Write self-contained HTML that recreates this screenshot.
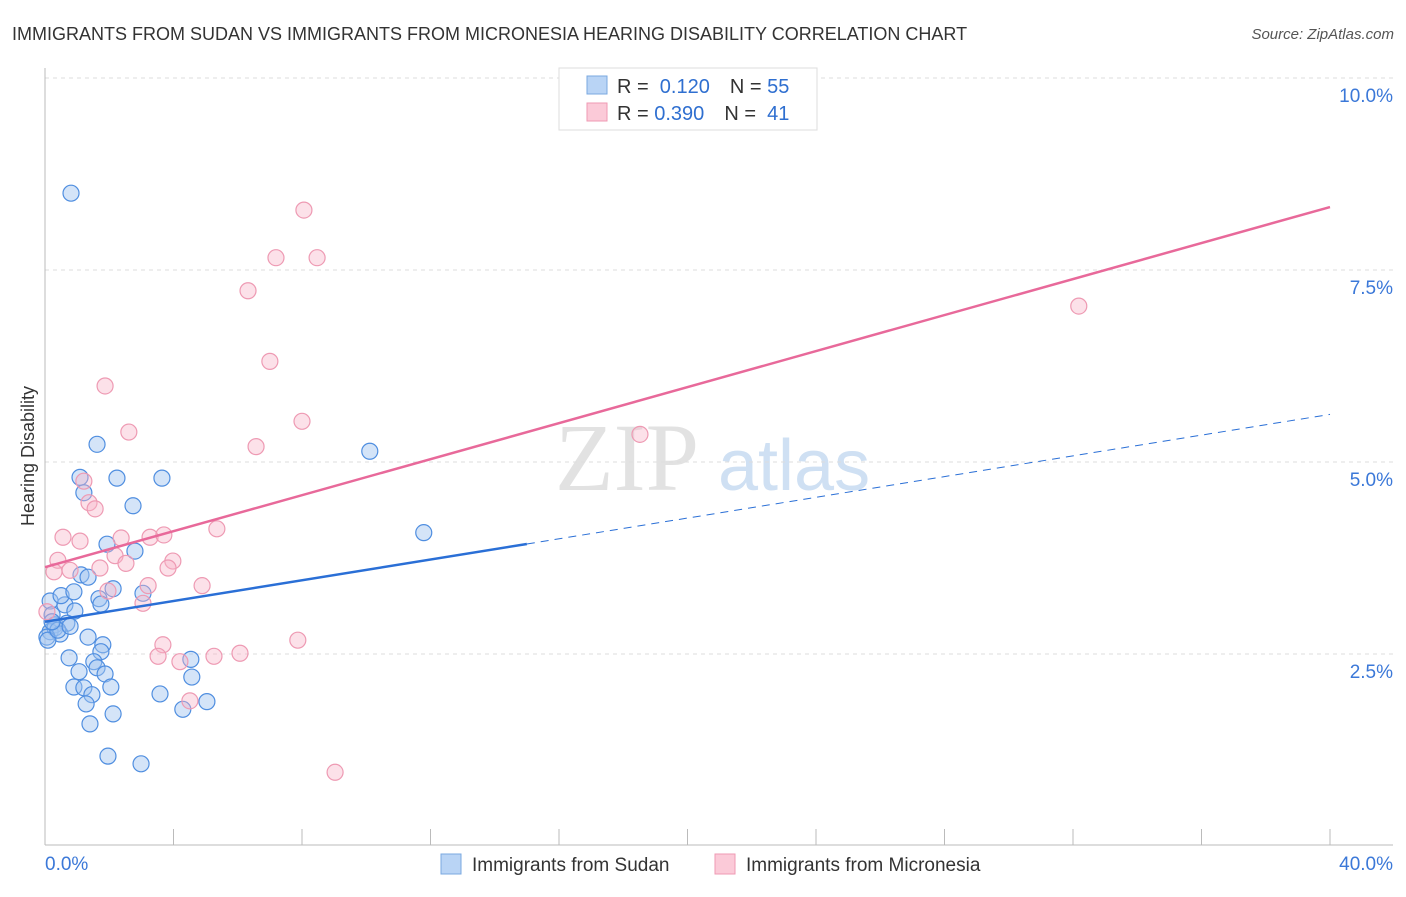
<!DOCTYPE html>
<html><head><meta charset="utf-8"><style>
body{margin:0;background:#fff;font-family:"Liberation Sans",sans-serif;}
</style></head><body>
<svg width="1406" height="892" xmlns="http://www.w3.org/2000/svg" font-family="Liberation Sans, sans-serif">
<text x="12" y="40" font-size="18" fill="#333">IMMIGRANTS FROM SUDAN VS IMMIGRANTS FROM MICRONESIA HEARING DISABILITY CORRELATION CHART</text>
<text x="1394" y="39" font-size="15" fill="#555" font-style="italic" text-anchor="end">Source: ZipAtlas.com</text>
<text x="555" y="490" font-size="96" fill="#e2e2e2" font-family="Liberation Serif, serif">ZIP</text>
<text x="718" y="490" font-size="72" fill="#cfe0f3">atlas</text>
<g id="grid"></g>
<g id="axes"></g>
<g id="marks"></g>
<text transform="translate(34,456) rotate(-90)" font-size="18" fill="#333" text-anchor="middle">Hearing Disability</text>
<g>
<rect x="559" y="68" width="258" height="62" fill="#fff" stroke="#ddd"/>
<rect x="587" y="76" width="20" height="18" fill="#b9d4f5" stroke="#7aa8e0"/>
<rect x="587" y="103" width="20" height="18" fill="#fbcad8" stroke="#ef9ab3"/>
<text x="617" y="93" font-size="20" fill="#333">R = <tspan fill="#2f6fd0">&#160;0.120</tspan><tspan dx="20" fill="#333">N = </tspan><tspan fill="#2f6fd0">55</tspan></text>
<text x="617" y="120" font-size="20" fill="#333">R = <tspan fill="#2f6fd0">0.390</tspan><tspan dx="20" fill="#333">N = </tspan><tspan fill="#2f6fd0">&#160;41</tspan></text>
</g>
<g>
<rect x="441" y="854" width="20" height="20" fill="#b9d4f5" stroke="#7aa8e0"/>
<text x="472" y="871" font-size="19" fill="#333">Immigrants from Sudan</text>
<rect x="715" y="854" width="20" height="20" fill="#fbcad8" stroke="#ef9ab3"/>
<text x="746" y="871" font-size="19" fill="#333">Immigrants from Micronesia</text>
</g>
</svg>
<script>
const blueX=[0.81,1.62,1.09,2.24,3.64,1.21,2.74,10.11,11.79,1.93,2.80,1.12,1.34,2.12,0.16,0.62,0.50,0.90,0.93,1.68,1.74,3.05,0.22,0.31,0.68,0.16,0.31,0.47,0.06,1.34,1.80,1.74,0.75,1.52,1.62,1.06,1.87,4.54,4.57,0.90,1.21,2.05,1.46,3.58,1.28,4.29,5.04,2.12,1.40,1.96,2.99,0.09,0.40,0.78,0.22];
const blueY=[8.50,5.23,4.80,4.79,4.79,4.60,4.43,5.14,4.08,3.93,3.84,3.53,3.50,3.35,3.19,3.14,3.26,3.31,3.06,3.22,3.15,3.29,3.01,2.88,2.90,2.79,2.84,2.76,2.72,2.72,2.62,2.53,2.45,2.40,2.32,2.27,2.24,2.43,2.20,2.07,2.06,2.07,1.97,1.98,1.85,1.78,1.88,1.72,1.59,1.17,1.07,2.68,2.81,2.86,2.92];
const pinkX=[8.06,7.19,8.47,6.32,7.00,1.87,8.00,2.61,6.57,18.52,32.18,1.21,1.37,1.56,0.56,1.09,5.35,3.27,2.37,3.70,0.40,2.18,0.28,0.78,1.71,2.52,3.98,3.83,3.21,4.89,1.96,3.05,3.67,3.52,4.20,5.26,6.07,7.87,4.51,9.03,0.06];
const pinkY=[8.28,7.66,7.66,7.23,6.31,5.99,5.53,5.39,5.20,5.36,7.03,4.75,4.47,4.39,4.02,3.97,4.13,4.02,4.01,4.05,3.72,3.78,3.57,3.59,3.62,3.68,3.71,3.62,3.39,3.39,3.32,3.16,2.62,2.47,2.40,2.47,2.51,2.68,1.89,0.96,3.05];
const blueTrend=[2.92,5.62];
const blueSolidEnd=15;
const pinkTrend=[3.63,8.32];
const yTicks=[2.5,5.0,7.5,10.0];
const yTickLabels=["2.5%","5.0%","7.5%","10.0%"];
const xTicks=[0,4,8,12,16,20,24,28,32,36,40];
const NS="http://www.w3.org/2000/svg";
const sx=v=>45+v*(1285/40);
const sy=v=>846-v*(192/2.5);
function mk(tag,attrs,parent){const e=document.createElementNS(NS,tag);for(const k in attrs)e.setAttribute(k,attrs[k]);document.getElementById(parent).appendChild(e);return e;}
yTicks.forEach((t,i)=>{
  const g=mk('line',{x1:45,x2:1393,y1:sy(t),y2:sy(t),stroke:'#ddd','stroke-dasharray':'4,4'},'grid');
  
  
  const l=mk('text',{x:1393,y:sy(t)+24,'font-size':19,fill:'#3b78d8','text-anchor':'end'},'grid');
  l.textContent=yTickLabels[i];
  
  
});
const xa=mk('line',{x1:45,x2:1393,y1:845,y2:845,stroke:'#bbb'},'axes');


const ya=mk('line',{x1:45,x2:45,y1:68,y2:845,stroke:'#bbb'},'axes');


xTicks.forEach(t=>{
  const e=mk('line',{x1:sx(t),x2:sx(t),y1:829,y2:845,stroke:'#bbb'},'axes');
  
  
});
[[0,'0.0%','start',45],[40,'40.0%','end',1393]].forEach(a=>{
  const e=mk('text',{x:a[3],y:870,'font-size':19,fill:'#3b78d8','text-anchor':a[2]},'axes');
  e.textContent=a[1];
  
  
});
blueX.forEach((x,i)=>{
  const c=mk('circle',{cx:sx(x),cy:sy(blueY[i]),r:8,fill:'rgba(160,196,240,0.45)',stroke:'#4f8ee0','stroke-width':1.2},'marks');
  
  
});
pinkX.forEach((x,i)=>{
  const c=mk('circle',{cx:sx(x),cy:sy(pinkY[i]),r:8,fill:'rgba(248,180,200,0.4)',stroke:'#ee9ab3','stroke-width':1.2},'marks');
  
  
});
const bAt=v=>blueTrend[0]+(blueTrend[1]-blueTrend[0])*v/40;
const b1=mk('line',{x1:sx(0),y1:sy(blueTrend[0]),x2:sx(blueSolidEnd),y2:sy(bAt(blueSolidEnd)),stroke:'#2a6fd6','stroke-width':2.5},'marks');


const b2=mk('line',{x1:sx(blueSolidEnd),y1:sy(bAt(blueSolidEnd)),x2:sx(40),y2:sy(blueTrend[1]),stroke:'#2a6fd6','stroke-width':1,'stroke-dasharray':'8,6'},'marks');


const p1=mk('line',{x1:sx(0),y1:sy(pinkTrend[0]),x2:sx(40),y2:sy(pinkTrend[1]),stroke:'#e8699a','stroke-width':2.5},'marks');


</script>
</body></html>
